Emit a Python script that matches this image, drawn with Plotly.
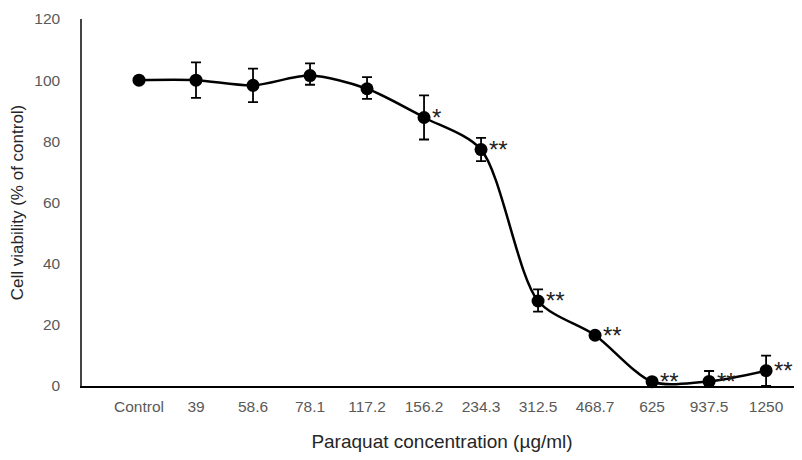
import plotly.graph_objects as go

categories = ["Control", "39", "58.6", "78.1", "117.2", "156.2", "234.3", "312.5", "468.7", "625", "937.5", "1250"]
viability = [100, 100, 98.3, 101.5, 97.2, 87.8, 77.3, 27.8, 16.6, 1.4, 1.5, 5.0]
err_plus = [0, 5.8, 5.5, 4.0, 3.8, 7.2, 3.8, 3.8, 0, 0, 3.4, 4.9]
err_minus = [0, 5.8, 5.5, 3.0, 3.3, 7.2, 3.8, 3.5, 0, 0, 1.5, 5.0]
signif = ["", "", "", "", "", "*", "**", "**", "**", "**", "**", "**"]

xs = list(range(len(categories)))

fig = go.Figure()
fig.add_trace(go.Scatter(
    x=xs, y=viability, mode="lines+markers",
    line=dict(color="black", width=2.5, shape="spline", smoothing=0.8),
    marker=dict(color="black", size=13),
    error_y=dict(type="data", symmetric=False, array=err_plus, arrayminus=err_minus,
                 color="black", thickness=1.8, width=5),
    cliponaxis=False, showlegend=False,
))

for x, y, s in zip(xs, viability, signif):
    if s:
        fig.add_annotation(x=x, y=y, text=s, showarrow=False, xanchor="left", yanchor="middle",
                           xshift=6, yshift=0, font=dict(size=24, color="#222222", family="Liberation Sans, Arial"))

fig.update_layout(
    width=794, height=452,
    margin=dict(l=74, r=0, t=11, b=74),
    plot_bgcolor="white", paper_bgcolor="white",
    font=dict(family="Liberation Sans, Arial", color="#595959", size=15.5),
    xaxis=dict(
        range=[-1, 11.63], tickvals=xs, ticktext=categories, showgrid=False, zeroline=False,
        showline=True, linecolor="black", linewidth=2, ticks="", ticklabelstandoff=5, automargin=False,
        title=dict(text="Paraquat concentration (µg/ml)", font=dict(size=19, color="#262626"), standoff=21),
    ),
    yaxis=dict(
        range=[0, 120], tickvals=[0, 20, 40, 60, 80, 100, 120], showgrid=False, zeroline=False,
        showline=True, linecolor="#444444", linewidth=1.5, ticks="", ticklabelstandoff=17, automargin=False,
        title=dict(text="Cell viability (% of control)", font=dict(size=17, color="#262626"), standoff=6),
    ),
)

fig.write_html("out.html")
